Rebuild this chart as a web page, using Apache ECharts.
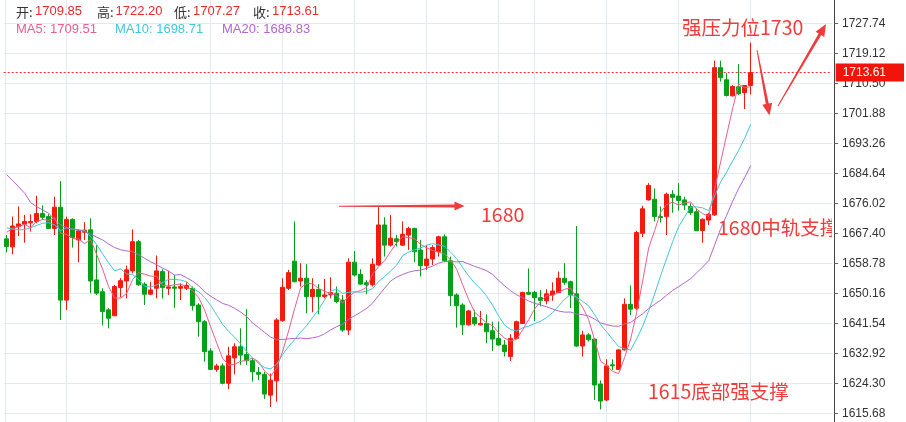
<!DOCTYPE html>
<html><head><meta charset="utf-8">
<script src="https://cdn.jsdelivr.net/npm/echarts@6/dist/echarts.min.js"></script>
<style>html,body{margin:0;padding:0;background:#fff}#c{width:906px;height:422px}</style>
</head><body><div id="c"></div>
<script>
// ---- data ----
const opens = [1665.8,1663.5,1669.3,1670.0,1670.4,1670.8,1673.1,1672.2,1668.8,1674.9,
1648.2,1671.4,1665.5,1667.7,1668.4,1654.0,1650.6,1645.4,1643.7,1651.8,
1653.7,1656.6,1665.0,1652.8,1649.9,1651.6,1656.4,1651.6,1652.0,1651.6,
1651.6,1651.6,1646.8,1642.0,1633.6,1628.3,1629.3,1624.3,1631.6,1634.8,
1632.6,1630.8,1627.4,1626.9,1620.9,1625.0,1642.3,1651.6,1659.4,1653.7,
1654.5,1649.2,1651.3,1649.2,1649.7,1650.2,1648.2,1639.6,1659.1,1655.6,
1653.2,1652.6,1658.3,1669.8,1664.0,1665.8,1664.0,1666.9,1668.8,1662.6,
1658.1,1660.0,1662.1,1666.4,1659.5,1649.7,1646.8,1641.1,1643.2,1641.1,
1641.5,1639.4,1637.2,1635.3,1632.0,1637.2,1641.5,1650.4,1650.4,1648.9,
1648.0,1649.7,1650.4,1654.5,1653.5,1650.0,1635.0,1638.2,1637.0,1624.1,
1619.5,1629.6,1628.3,1633.9,1647.0,1645.9,1667.4,1677.0,1677.2,1672.2,
1672.2,1678.6,1678.1,1677.0,1675.1,1673.6,1668.2,1671.2,1672.7,1715.0,
1711.5,1706.9,1709.5,1707.8,1709.85];
const closes = [1663.6,1669.5,1670.1,1670.8,1670.8,1673.1,1672.0,1668.8,1674.9,1648.2,
1671.4,1666.2,1668.1,1668.3,1653.7,1650.2,1644.9,1643.0,1652.1,1653.8,
1656.9,1665.0,1652.6,1649.9,1651.1,1656.6,1651.8,1652.0,1651.6,1652.1,
1652.4,1646.6,1642.0,1633.4,1628.3,1629.3,1624.3,1632.2,1634.8,1632.4,
1630.8,1627.6,1626.9,1621.2,1625.2,1642.5,1651.9,1656.1,1653.5,1654.5,
1649.2,1651.3,1649.2,1649.7,1650.4,1647.8,1639.6,1659.1,1655.4,1652.8,
1652.6,1658.5,1669.8,1664.0,1666.0,1665.0,1667.1,1668.8,1662.1,1658.1,
1660.0,1663.3,1666.4,1659.5,1649.5,1646.6,1641.1,1645.1,1641.4,1641.5,
1639.1,1637.0,1635.3,1633.4,1637.2,1642.0,1650.4,1649.9,1648.9,1648.1,
1650.0,1650.8,1654.5,1653.3,1649.7,1635.0,1638.2,1636.8,1623.8,1619.2,
1629.3,1629.3,1633.9,1647.0,1645.6,1667.64,1674.44,1681.14,1672.24,1671.94,
1678.64,1677.74,1676.84,1675.54,1673.34,1668.15,1671.45,1672.85,1715.0,1712.1,
1706.98,1709.59,1707.49,1709.88,1713.61];
const lows = [1661.9,1661.4,1666.6,1664.7,1667.9,1670.3,1671.2,1668.6,1666.9,1642.5,
1645.4,1663.3,1659.1,1665.5,1650.2,1649.7,1640.9,1640.1,1643.7,1649.0,
1648.7,1655.9,1652.3,1646.8,1649.7,1648.7,1648.7,1649.7,1646.0,1648.2,
1651.1,1645.2,1637.7,1630.5,1628.1,1627.6,1624.0,1622.6,1626.9,1629.6,
1629.6,1624.8,1625.2,1619.8,1617.5,1619.0,1642.0,1651.1,1653.3,1652.1,
1644.4,1644.7,1644.1,1648.7,1648.7,1647.3,1639.1,1638.2,1655.0,1652.6,
1649.9,1652.1,1658.1,1660.7,1663.6,1663.6,1663.8,1662.6,1659.1,1655.0,
1656.9,1658.3,1660.7,1659.1,1646.5,1640.3,1638.2,1640.9,1640.9,1640.9,
1635.8,1633.6,1635.1,1632.0,1630.7,1637.0,1641.4,1649.7,1642.2,1646.4,
1647.0,1648.0,1650.2,1652.6,1645.9,1634.8,1632.0,1636.3,1619.5,1616.8,
1619.2,1628.1,1628.1,1633.7,1643.9,1645.4,1666.3,1676.8,1670.8,1670.5,
1666.9,1673.3,1673.9,1674.1,1672.7,1668.0,1664.7,1669.8,1672.4,1711.0,
1706.7,1706.7,1707.1,1703.1,1707.27];
const highs = [1666.9,1672.2,1675.1,1672.7,1672.9,1678.2,1675.4,1672.9,1677.9,1682.4,
1672.2,1671.7,1668.6,1670.6,1671.7,1664.0,1651.6,1645.9,1652.6,1654.5,
1658.1,1668.5,1665.5,1653.3,1653.5,1661.0,1657.1,1656.6,1655.4,1653.0,
1653.3,1652.1,1647.3,1642.5,1634.4,1629.9,1630.0,1634.8,1635.8,1640.1,
1645.6,1631.5,1629.0,1627.6,1627.1,1643.0,1654.5,1656.9,1670.8,1658.8,
1658.5,1654.5,1652.8,1654.3,1654.8,1652.1,1649.7,1660.2,1662.3,1657.1,
1654.0,1660.2,1674.9,1672.0,1672.7,1666.9,1670.8,1669.3,1669.0,1665.5,
1664.0,1664.0,1666.7,1667.1,1660.7,1650.2,1647.3,1645.4,1645.4,1645.1,
1644.1,1642.0,1642.0,1636.7,1638.4,1642.3,1650.6,1657.3,1650.9,1651.1,
1651.3,1653.3,1656.4,1658.8,1653.8,1669.5,1639.4,1638.7,1637.2,1625.1,
1631.2,1631.2,1634.1,1648.7,1652.4,1668.1,1675.3,1681.8,1680.3,1675.1,
1679.1,1679.8,1681.8,1677.9,1676.0,1674.5,1671.7,1673.3,1717.0,1717.0,
1713.4,1710.0,1716.0,1710.0,1722.20];
// moving-average values before a full window is available
const ma5Head = [1667.7,1668.85,1669.3,1670.0];
const ma10Head = [1669.0,1668.6,1668.35,1668.5,1669.0,1669.65,1670.3,1670.45,1669.8];
const ma20Head = [1684.24,1682.5,1680.8,1678.9,1676.2,1675.05,1674.1,1673.15,1671.4,1669.8,
1669.0,1668.6,1668.3,1667.9,1667.2,1666.3,1665.5,1664.3,1663.3];
const yTicks = [1615.68,1624.30,1632.92,1641.54,1650.16,1658.78,1667.40,1676.02,1684.64,1693.26,1701.88,1710.50,1719.12,1727.74];
const dayLines = [10,34,46,58,70,82,88,100,112,124];
const slotCount = 138;

function movingAvg(n, head) {
  return closes.map((c, i) => {
    if (i < head.length) return head[i];
    let s = 0;
    for (let j = i - n + 1; j <= i; j++) s += closes[j];
    return s / n;
  });
}
const ma5 = movingAvg(5, ma5Head);
const ma10 = movingAvg(10, ma10Head);
const ma20 = movingAvg(20, ma20Head);
const candles = opens.map((o, i) => [o, closes[i], lows[i], highs[i]]);
const categories = Array.from({length: slotCount}, (_, i) => 'k' + i);
const last = opens.length - 1;

const yInterval = +(yTicks[1] - yTicks[0]).toFixed(2);
const yMin = +(yTicks[0] - yInterval).toFixed(2);
const yMax = +(yTicks[yTicks.length - 1] + 2 * yInterval).toFixed(2);

const UP = '#f31b10', DOWN = '#07a01b';
const ANN = '#f03b3b';
const C5 = '#ee5c8d', C10 = '#3fc8db', C20 = '#b466cc';
const GRIDC = '#e2e9f0';
const latin = '"Liberation Sans", Arial, sans-serif';
const cjk = '"Noto Sans CJK SC", sans-serif';

function arrowPts(x1, y1, x2, y2, w0, w1, hl, hw) {
  const dx = x2 - x1, dy = y2 - y1, L = Math.hypot(dx, dy);
  const ux = dx / L, uy = dy / L, px = -uy, py = ux;
  const bx = x2 - ux * hl, by = y2 - uy * hl;
  return [
    [x1 + px * w0 / 2, y1 + py * w0 / 2],
    [bx + px * w1 / 2, by + py * w1 / 2],
    [bx + px * hw, by + py * hw],
    [x2, y2],
    [bx - px * hw, by - py * hw],
    [bx - px * w1 / 2, by - py * w1 / 2],
    [x1 - px * w0 / 2, y1 - py * w0 / 2]
  ];
}

const chart = echarts.init(document.getElementById('c'), null, {renderer: 'canvas'});

function txt(x, y, text, fill, size, family) {
  return {type: 'text', x: x, y: y, z: 100,
    style: {text: text, fill: fill, fontSize: size, fontFamily: family, verticalAlign: 'middle', align: 'left'}};
}

const f2 = v => v.toFixed(2);

chart.setOption({
  animation: false,
  backgroundColor: '#ffffff',
  grid: {left: 3.67, right: 74.33, top: -36.7, bottom: -21.3, containLabel: false, outerBoundsMode: 'none'},
  xAxis: {
    type: 'category', data: categories, boundaryGap: true,
    axisLine: {show: false}, axisTick: {show: false}, axisLabel: {show: false}, splitLine: {show: false}
  },
  yAxis: {
    type: 'value', position: 'right', offset: 2.33,
    min: yMin, max: yMax, interval: yInterval, scale: true,
    axisLine: {show: true, lineStyle: {color: '#444', width: 1}},
    axisTick: {show: true, length: 4, lineStyle: {color: '#666'}},
    axisLabel: {color: '#333', fontSize: 12, fontFamily: latin, margin: 8, formatter: v => v.toFixed(2)},
    splitLine: {show: true, lineStyle: {color: GRIDC, width: 1}}
  },
  series: [
    {
      type: 'candlestick', data: candles, barWidth: 4,
      itemStyle: {color: UP, color0: DOWN, borderColor: UP, borderColor0: DOWN, borderWidth: 1},
      markLine: {
        silent: true, symbol: 'none', z: 5,
        lineStyle: {color: '#f03030', type: [2, 2], width: 1},
        label: {show: true, position: 'end', distance: 4, formatter: p => f2(p.value),
          backgroundColor: '#f2140a', color: '#fff', fontSize: 12, fontFamily: latin,
          padding: [3, 18, 3, 7], lineHeight: 12},
        data: [{yAxis: closes[last]}]
      }
    },
    {type: 'line', data: ma5, symbol: 'none', lineStyle: {color: C5, width: 1}, itemStyle: {color: C5}, z: 3},
    {type: 'line', data: ma10, symbol: 'none', lineStyle: {color: C10, width: 1}, itemStyle: {color: C10}, z: 3},
    {type: 'line', data: ma20, symbol: 'none', lineStyle: {color: C20, width: 1}, itemStyle: {color: C20}, z: 3,
      markLine: {
        silent: true, symbol: 'none', z: 1, label: {show: false},
        lineStyle: {color: GRIDC, type: 'solid', width: 1},
        data: dayLines.map(i => ({xAxis: i}))
      }
    },
    {
      type: 'custom', clip: true, z: 20, silent: true,
      data: [[0, yTicks[0]]],
      renderItem: function (params, api) {
        return {type: 'group', children: [
          txt(682, 28, '强压力位1730', ANN, 19.5, cjk),
          txt(481, 215, '1680', ANN, 19.5, cjk),
          txt(718, 228, '1680中轨支撑', ANN, 19.5, cjk),
          txt(648, 392, '1615底部强支撑', ANN, 19.5, cjk),
          {type: 'polygon', shape: {points: arrowPts(339, 206.3, 464.5, 206, 1, 3, 10, 4.5)}, style: {fill: ANN}},
          {type: 'polygon', shape: {points: arrowPts(757, 50, 769.5, 115.5, 1, 3, 12, 5)}, style: {fill: ANN}},
          {type: 'polygon', shape: {points: arrowPts(778, 106, 826, 24, 1, 3, 12, 5)}, style: {fill: ANN}}
        ]};
      }
    }
  ],
  graphic: [
    {type: 'line', shape: {x1: 5.5, y1: 0, x2: 5.5, y2: 422}, style: {stroke: GRIDC, lineWidth: 1}, z: -1, silent: true},
    txt(16, 11.7, '开:', '#333', 13, cjk),
    txt(35, 11.7, f2(opens[last]), '#ee2a2a', 13, latin),
    txt(97, 11.7, '高:', '#333', 13, cjk),
    txt(115.5, 11.7, f2(highs[last]), '#ee2a2a', 13, latin),
    txt(174, 11.7, '低:', '#333', 13, cjk),
    txt(193, 11.7, f2(lows[last]), '#ee2a2a', 13, latin),
    txt(253, 11.7, '收:', '#333', 13, cjk),
    txt(272, 11.7, f2(closes[last]), '#ee2a2a', 13, latin),
    txt(16, 29.3, 'MA5: ' + f2(ma5[last]), C5, 13, latin),
    txt(115, 29.3, 'MA10: ' + f2(ma10[last]), C10, 13, latin),
    txt(222, 29.3, 'MA20: ' + f2(ma20[last]), C20, 13, latin)
  ]
});
</script>
</body></html>
